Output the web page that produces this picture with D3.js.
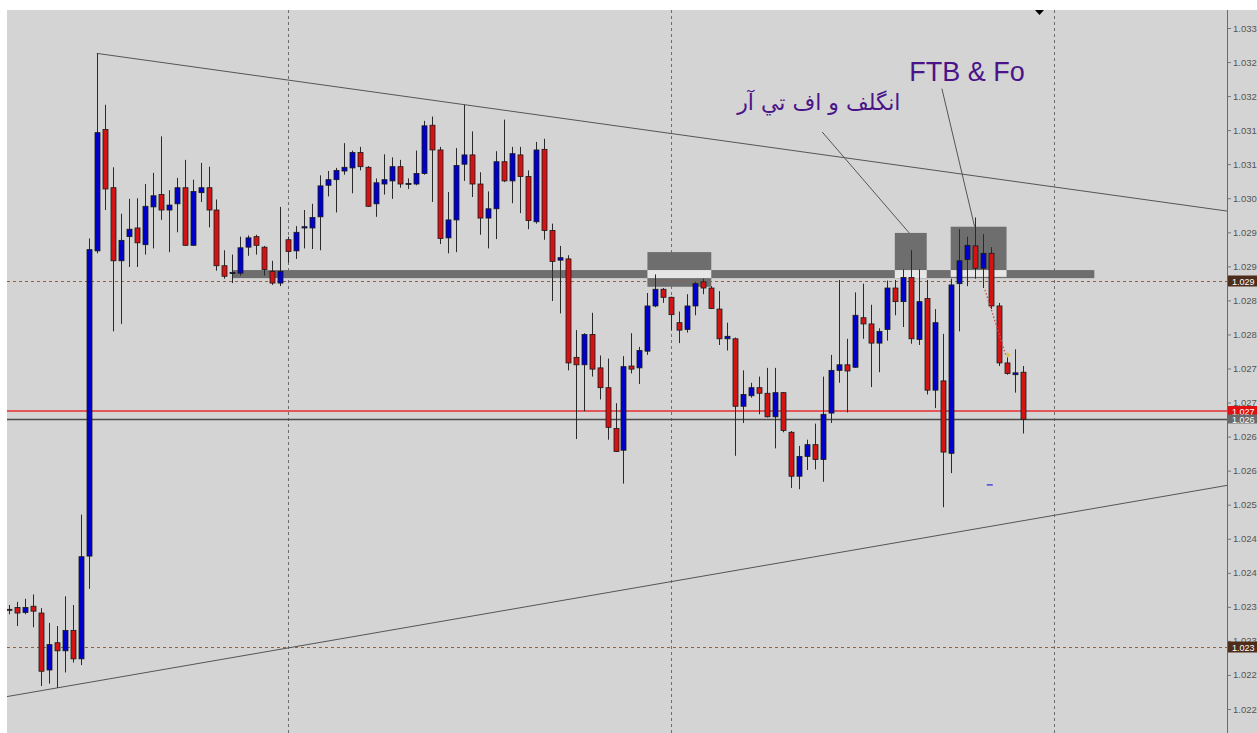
<!DOCTYPE html>
<html>
<head>
<meta charset="utf-8">
<script src="https://cdn.jsdelivr.net/npm/d3@7"></script>
<style>
  body { margin: 0; background: #fff; }
  svg { display: block; }
</style>
</head>
<body>
<script>
// bar OHLC (bar 0 = leftmost)
var opens = [
  1.02381, 1.02384, 1.02376, 1.02386, 1.02375, 1.02283, 1.02327, 1.02314, 1.02347, 1.02301,
  1.02467, 1.02960, 1.03156, 1.03062, 1.02944, 1.02983, 1.02997, 1.02970, 1.03031, 1.03051,
  1.03026, 1.03036, 1.03062, 1.02969, 1.03054, 1.03062, 1.03026, 1.02936, 1.02924, 1.02924,
  1.02966, 1.02983, 1.02966, 1.02927, 1.02908, 1.02978, 1.02960, 1.02997, 1.02997, 1.03015,
  1.03066, 1.03075, 1.03089, 1.03094, 1.03119, 1.03095, 1.03036, 1.03068, 1.03073, 1.03096,
  1.03068, 1.03068, 1.03085, 1.03163, 1.03123, 1.02981, 1.03010, 1.03100, 1.03115, 1.03068,
  1.03013, 1.03028, 1.03104, 1.03073, 1.03115, 1.03080, 1.03007, 1.03124, 1.02993, 1.02945,
  1.02947, 1.02788, 1.02776, 1.02825, 1.02771, 1.02739, 1.02673, 1.02638, 1.02774, 1.02771,
  1.02798, 1.02871, 1.02898, 1.02885, 1.02844, 1.02833, 1.02871, 1.02910, 1.02900, 1.02866,
  1.02818, 1.02818, 1.02709, 1.02726, 1.02739, 1.02730, 1.02692, 1.02731, 1.02667, 1.02596,
  1.02628, 1.02647, 1.02623, 1.02698, 1.02767, 1.02776, 1.02772, 1.02852, 1.02842, 1.02811,
  1.02833, 1.02900, 1.02878, 1.02917, 1.02817, 1.02883, 1.02735, 1.02750, 1.02633, 1.02907,
  1.02946, 1.02968, 1.02932, 1.02956, 1.02871, 1.02779, 1.02760, 1.02764
];
var highs = [
  1.02388, 1.02393, 1.02398, 1.02405, 1.02383, 1.02359, 1.02354, 1.02402, 1.02388, 1.02534,
  1.02980, 1.03279, 1.03196, 1.03095, 1.03020, 1.03044, 1.03045, 1.03068, 1.03086, 1.03145,
  1.03058, 1.03078, 1.03107, 1.03075, 1.03102, 1.03096, 1.03043, 1.02961, 1.02954, 1.02983,
  1.02985, 1.02986, 1.02968, 1.02944, 1.03031, 1.02983, 1.03000, 1.03026, 1.03036, 1.03082,
  1.03089, 1.03094, 1.03134, 1.03122, 1.03128, 1.03097, 1.03077, 1.03116, 1.03111, 1.03107,
  1.03077, 1.03122, 1.03170, 1.03177, 1.03128, 1.03055, 1.03126, 1.03196, 1.03153, 1.03087,
  1.03056, 1.03121, 1.03172, 1.03128, 1.03128, 1.03090, 1.03136, 1.03141, 1.03004, 1.02968,
  1.02953, 1.02832, 1.02827, 1.02860, 1.02791, 1.02786, 1.02714, 1.02790, 1.02827, 1.02805,
  1.02892, 1.02922, 1.02900, 1.02886, 1.02862, 1.02890, 1.02910, 1.02915, 1.02903, 1.02895,
  1.02844, 1.02820, 1.02767, 1.02747, 1.02757, 1.02771, 1.02771, 1.02732, 1.02669, 1.02645,
  1.02655, 1.02681, 1.02757, 1.02792, 1.02913, 1.02818, 1.02893, 1.02907, 1.02873, 1.02835,
  1.02912, 1.02913, 1.02930, 1.02961, 1.02930, 1.02913, 1.02866, 1.02826, 1.02915, 1.02995,
  1.02983, 1.03014, 1.02987, 1.02966, 1.02876, 1.02792, 1.02801, 1.02774
];
var lows = [
  1.02373, 1.02354, 1.02373, 1.02352, 1.02257, 1.02261, 1.02254, 1.02279, 1.02295, 1.02291,
  1.02414, 1.02956, 1.03026, 1.02830, 1.02842, 1.02934, 1.02934, 1.02954, 1.02964, 1.03010,
  1.02958, 1.02990, 1.02968, 1.02968, 1.03039, 1.02998, 1.02928, 1.02915, 1.02908, 1.02920,
  1.02952, 1.02954, 1.02920, 1.02905, 1.02903, 1.02941, 1.02947, 1.02964, 1.02963, 1.02961,
  1.03048, 1.03022, 1.03083, 1.03053, 1.03090, 1.03031, 1.03015, 1.03051, 1.03044, 1.03062,
  1.03060, 1.03066, 1.03083, 1.03039, 1.02971, 1.02956, 1.02958, 1.03073, 1.03047, 1.02986,
  1.02964, 1.02979, 1.03071, 1.03037, 1.03021, 1.02995, 1.03004, 1.02978, 1.02879, 1.02859,
  1.02767, 1.02656, 1.02701, 1.02757, 1.02720, 1.02655, 1.02635, 1.02584, 1.02762, 1.02745,
  1.02792, 1.02869, 1.02876, 1.02832, 1.02811, 1.02828, 1.02856, 1.02890, 1.02866, 1.02808,
  1.02799, 1.02629, 1.02682, 1.02723, 1.02696, 1.02691, 1.02641, 1.02667, 1.02577, 1.02575,
  1.02606, 1.02607, 1.02587, 1.02682, 1.02747, 1.02699, 1.02771, 1.02818, 1.02740, 1.02764,
  1.02815, 1.02856, 1.02837, 1.02810, 1.02808, 1.02728, 1.02706, 1.02546, 1.02601, 1.02830,
  1.02903, 1.02915, 1.02900, 1.02866, 1.02774, 1.02760, 1.02731, 1.02665
];
var closes = [
  1.02380, 1.02375, 1.02384, 1.02378, 1.02281, 1.02324, 1.02314, 1.02347, 1.02301, 1.02466,
  1.02962, 1.03151, 1.03060, 1.02944, 1.02977, 1.02995, 1.02973, 1.03032, 1.03049, 1.03026,
  1.03034, 1.03062, 1.02969, 1.03056, 1.03062, 1.03026, 1.02936, 1.02919, 1.02925, 1.02965,
  1.02981, 1.02969, 1.02930, 1.02908, 1.02927, 1.02959, 1.02990, 1.02999, 1.03014, 1.03065,
  1.03075, 1.03090, 1.03095, 1.03119, 1.03096, 1.03032, 1.03070, 1.03075, 1.03096, 1.03068,
  1.03069, 1.03085, 1.03162, 1.03123, 1.02980, 1.03010, 1.03098, 1.03115, 1.03068, 1.03013,
  1.03028, 1.03104, 1.03073, 1.03117, 1.03080, 1.03009, 1.03123, 1.02993, 1.02943, 1.02949,
  1.02779, 1.02776, 1.02825, 1.02769, 1.02739, 1.02675, 1.02636, 1.02773, 1.02769, 1.02799,
  1.02871, 1.02898, 1.02885, 1.02857, 1.02832, 1.02871, 1.02907, 1.02900, 1.02867, 1.02818,
  1.02822, 1.02709, 1.02728, 1.02739, 1.02730, 1.02692, 1.02731, 1.02670, 1.02596, 1.02628,
  1.02647, 1.02623, 1.02696, 1.02767, 1.02776, 1.02766, 1.02856, 1.02842, 1.02811, 1.02830,
  1.02900, 1.02878, 1.02917, 1.02818, 1.02878, 1.02735, 1.02844, 1.02635, 1.02905, 1.02944,
  1.02969, 1.02932, 1.02956, 1.02871, 1.02779, 1.02762, 1.02763, 1.02688
];

// right price scale labels
var priceTicks = [
  1.03320, 1.03265, 1.03210, 1.03155, 1.03100, 1.03045, 1.02990, 1.02935, 1.02880, 1.02825,
  1.02770, 1.02715, 1.02660, 1.02605, 1.02550, 1.02495, 1.02440, 1.02385, 1.02330, 1.02275, 1.02220
];
var gridBars = [35, 83, 131];

// horizontal objects
var dashedLevels = [1.02911, 1.02320];
var askPrice = 1.02701, bidPrice = 1.02688;

// trend lines as [bar, price] pairs
var upperTrend = [[11, 1.03279], [140, 1.03047]];
var lowerTrend = [[6, 1.02254], [140, 1.02553]];

// rectangles: [bar from, bar to, price top, price bottom]
var zoneBand = [28, 136, 1.02929, 1.02916];
var zoneBoxes = [
  [80, 88, 1.02958, 1.02902],
  [111, 115, 1.02989, 1.02916],
  [118, 125, 1.02999, 1.02918]
];

// notes: text, anchor [bar, price], callout line [[bar, price], [bar, price]]
var notes = [
  { text: "FTB & Fo", at: [112.8, 1.03235], line: [[116.9, 1.03222], [121.0, 1.02999]] },
  { text: "انگلف و اف تي آر", at: [111.7, 1.03187], line: [[101.9, 1.03152], [112.8, 1.02989]] }
];

var tradeLine = [[122.3, 1.02897], [124.9, 1.02792]];
var bluePoint = [122.9, 1.02582];

var W = 1257, H = 733;
var plotLeft = 7, plotTop = 10, axisX = 1227;

var x = d3.scaleLinear().domain([0, 127]).range([9, 1022.5]);
var y = d3.scaleLinear().domain([1.0222, 1.0332]).range([709, 28]);

var svg = d3.select("body").append("svg").attr("width", W).attr("height", H);
svg.append("rect").attr("width", W).attr("height", H).attr("fill", "#fff");
svg.append("rect").attr("x", plotLeft).attr("y", plotTop)
  .attr("width", W - plotLeft).attr("height", H - plotTop)
  .attr("fill", "#d4d4d4");

svg.append("clipPath").attr("id", "plot").append("rect")
  .attr("x", plotLeft).attr("y", plotTop)
  .attr("width", axisX - plotLeft).attr("height", H - plotTop);

var main = svg.append("g").attr("clip-path", "url(#plot)");

// vertical dotted grid
main.selectAll("line.grid").data(gridBars).enter().append("line")
  .attr("class", "grid")
  .attr("x1", function (d) { return Math.round(x(d)) + 0.5; })
  .attr("x2", function (d) { return Math.round(x(d)) + 0.5; })
  .attr("y1", plotTop).attr("y2", H)
  .attr("stroke", "#6e6e6e").attr("stroke-dasharray", "3,3");

// zones (band + boxes, overlaps drawn light like the terminal does)
function rectOf(r) {
  return { x: x(r[0]), y: y(r[2]), w: x(r[1]) - x(r[0]), h: y(r[3]) - y(r[2]) };
}
var zones = [zoneBand].concat(zoneBoxes).map(rectOf);
main.selectAll("rect.zone").data(zones).enter().append("rect")
  .attr("class", "zone")
  .attr("x", function (d) { return d.x; })
  .attr("y", function (d) { return d.y; })
  .attr("width", function (d) { return d.w; })
  .attr("height", function (d) { return d.h; })
  .attr("fill", "#6e6e6e");

var band = zones[0];
var overlaps = zones.slice(1).map(function (b) {
  var x0 = Math.max(b.x, band.x), x1 = Math.min(b.x + b.w, band.x + band.w);
  var y0 = Math.max(b.y, band.y), y1 = Math.min(b.y + b.h, band.y + band.h);
  return { x: x0, y: y0, w: Math.max(0, x1 - x0), h: Math.max(0, y1 - y0) };
});
main.selectAll("rect.overlap").data(overlaps).enter().append("rect")
  .attr("class", "overlap")
  .attr("x", function (d) { return d.x; })
  .attr("y", function (d) { return d.y; })
  .attr("width", function (d) { return d.w; })
  .attr("height", function (d) { return d.h; })
  .attr("fill", "#e6e6e6");

// horizontal levels
main.selectAll("line.level").data(dashedLevels).enter().append("line")
  .attr("class", "level")
  .attr("x1", plotLeft).attr("x2", axisX)
  .attr("y1", function (d) { return Math.round(y(d)) + 0.5; })
  .attr("y2", function (d) { return Math.round(y(d)) + 0.5; })
  .attr("stroke", "#96603c").attr("stroke-dasharray", "3,3");

main.append("line").attr("x1", plotLeft).attr("x2", axisX)
  .attr("y1", Math.round(y(askPrice))).attr("y2", Math.round(y(askPrice)))
  .attr("stroke", "#e62e2e").attr("stroke-width", 1.4);
main.append("line").attr("x1", plotLeft).attr("x2", axisX)
  .attr("y1", Math.round(y(bidPrice)) + 0.5).attr("y2", Math.round(y(bidPrice)) + 0.5)
  .attr("stroke", "#4a4a4a").attr("stroke-width", 1.3);

// trend lines
function priceAt(t, bar) {
  var k = (t[1][1] - t[0][1]) / (t[1][0] - t[0][0]);
  return t[0][1] + (bar - t[0][0]) * k;
}
var barRight = x.invert(axisX), barLeft = x.invert(plotLeft);
[[upperTrend, upperTrend[0][0]], [lowerTrend, barLeft]].forEach(function (p) {
  var t = p[0], b0 = p[1];
  main.append("line")
    .attr("x1", x(b0)).attr("y1", y(priceAt(t, b0)))
    .attr("x2", x(barRight)).attr("y2", y(priceAt(t, barRight)))
    .attr("stroke", "#555").attr("stroke-width", 1);
});

// callout lines
main.selectAll("line.callout").data(notes).enter().append("line")
  .attr("class", "callout")
  .attr("x1", function (d) { return x(d.line[0][0]); })
  .attr("y1", function (d) { return y(d.line[0][1]); })
  .attr("x2", function (d) { return x(d.line[1][0]); })
  .attr("y2", function (d) { return y(d.line[1][1]); })
  .attr("stroke", "#555");

// candles
var bars = d3.range(opens.length).map(function (i) {
  return { i: i, o: opens[i], h: highs[i], l: lows[i], c: closes[i] };
});
var candles = main.selectAll("g.candle").data(bars).enter().append("g").attr("class", "candle");
candles.append("line")
  .attr("x1", function (d) { return Math.round(x(d.i)) + 0.5; })
  .attr("x2", function (d) { return Math.round(x(d.i)) + 0.5; })
  .attr("y1", function (d) { return y(d.h); })
  .attr("y2", function (d) { return y(d.l); })
  .attr("stroke", "#2a2a2a");
candles.append("rect")
  .attr("x", function (d) { return Math.round(x(d.i)) - 2; })
  .attr("width", 5)
  .attr("y", function (d) { return y(Math.max(d.o, d.c)); })
  .attr("height", function (d) { return Math.max(1, Math.abs(y(d.o) - y(d.c))); })
  .attr("fill", function (d) { return d.c >= d.o ? "#0000cc" : "#d41414"; })
  .attr("stroke", "#1a1a1a").attr("stroke-width", 0.8);

// trade marks
main.append("line")
  .attr("x1", x(tradeLine[0][0])).attr("y1", y(tradeLine[0][1]))
  .attr("x2", x(tradeLine[1][0])).attr("y2", y(tradeLine[1][1]))
  .attr("stroke", "#e04848").attr("stroke-width", 1.4).attr("stroke-dasharray", "1.5,2");
main.append("path")
  .attr("d", "M" + (x(tradeLine[1][0]) + 1) + "," + (y(tradeLine[1][1]) - 3) + "l4,3l-4,3z")
  .attr("fill", "#e8c040");
main.append("line")
  .attr("x1", x(bluePoint[0]) - 3).attr("x2", x(bluePoint[0]) + 3)
  .attr("y1", y(bluePoint[1])).attr("y2", y(bluePoint[1]))
  .attr("stroke", "#4848d8").attr("stroke-width", 1.5);

// note texts
main.append("text")
  .attr("x", x(notes[0].at[0])).attr("y", y(notes[0].at[1]))
  .attr("font-family", "Liberation Sans, Arial, sans-serif").attr("font-size", 27)
  .attr("fill", "#4a1488").text(notes[0].text);
main.append("text")
  .attr("x", x(notes[1].at[0])).attr("y", y(notes[1].at[1]))
  .attr("direction", "rtl").attr("text-anchor", "start")
  .attr("font-family", "DejaVu Sans, sans-serif").attr("font-size", 22)
  .attr("fill", "#4a1488").text(notes[1].text);

// chart shift marker
svg.append("path").attr("d", "M1035,10L1044,10L1039.5,15Z").attr("fill", "#000");

// price axis
function fmt(v) { return (Math.floor(v * 1000 + 1e-6) / 1000).toFixed(3); }
var axis = d3.axisRight(y).tickValues(priceTicks).tickSize(4).tickPadding(2).tickFormat(fmt);
var ax = svg.append("g").attr("transform", "translate(" + axisX + ",0)").call(axis);
ax.select(".domain").remove();
ax.selectAll(".tick line").attr("stroke", "#777");
ax.selectAll(".tick text")
  .attr("font-family", "Liberation Sans, Arial, sans-serif").attr("font-size", 9.5)
  .attr("fill", "#555");
svg.append("line").attr("x1", axisX + 0.5).attr("x2", axisX + 0.5).attr("y1", plotTop).attr("y2", H)
  .attr("stroke", "#6a6a6a");

// price labels on the scale
var tags = [
  { p: dashedLevels[0], bg: "#4e2c1a", h: 11 },
  { p: dashedLevels[1], bg: "#4e2c1a", h: 11 },
  { p: askPrice, bg: "#e01010", h: 10 },
  { p: bidPrice, bg: "#6a6a6a", h: 9 }
];
var tag = svg.selectAll("g.tag").data(tags).enter().append("g").attr("class", "tag")
  .attr("transform", function (d) { return "translate(" + (axisX + 1) + "," + Math.round(y(d.p)) + ")"; });
tag.append("rect").attr("x", 0)
  .attr("y", function (d) { return -d.h / 2; })
  .attr("width", W - axisX).attr("height", function (d) { return d.h; })
  .attr("fill", function (d) { return d.bg; });
tag.append("text").attr("x", 4).attr("y", 3.5)
  .attr("font-family", "Liberation Sans, Arial, sans-serif").attr("font-size", 9)
  .attr("fill", "#fff").text(function (d) { return fmt(d.p); });
</script>
</body>
</html>
